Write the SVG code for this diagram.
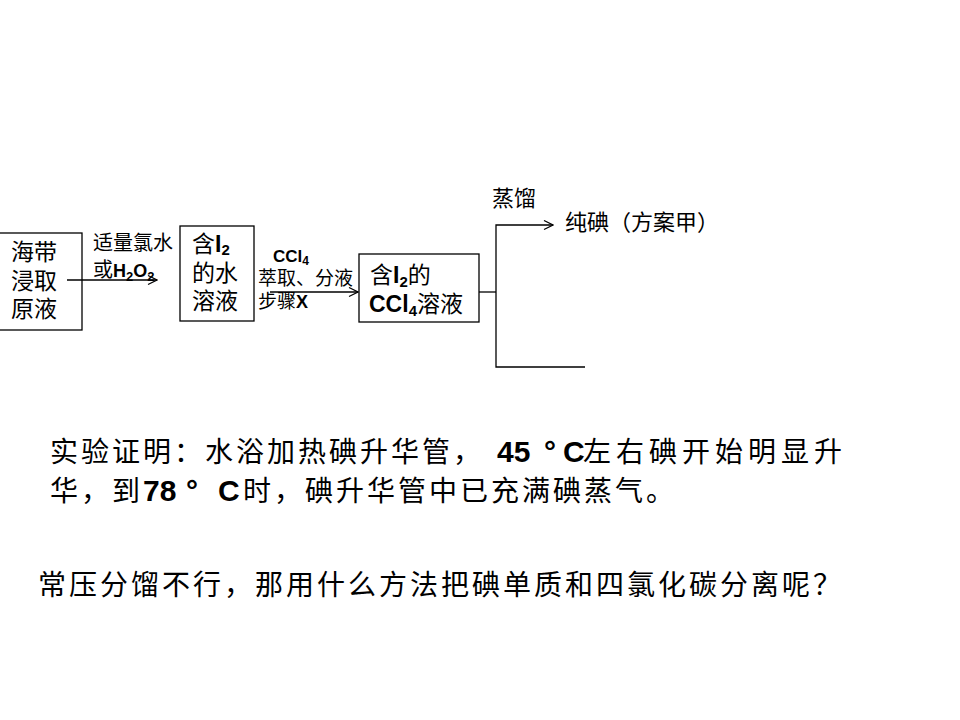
<svg xmlns="http://www.w3.org/2000/svg" width="960" height="720" viewBox="0 0 960 720">
<style>
.box{fill:#fff;stroke:#000;stroke-width:1.3}
.cn{font-family:"Liberation Serif","Noto Sans CJK SC",serif;fill:#000}
.b{font-family:"Liberation Sans",Arial,sans-serif;font-weight:bold}
.ln{stroke:#000;stroke-width:1.3;fill:none}
.body{font-size:28px;letter-spacing:3px}
.num{font-family:"Liberation Sans",Arial,sans-serif;font-weight:bold;font-size:30px;letter-spacing:0}
</style>
<defs>
<marker id="ah" markerWidth="11" markerHeight="11" refX="10" refY="5.5" orient="auto" markerUnits="userSpaceOnUse">
<path d="M1,1 L10,5.5 L1,10" fill="none" stroke="#000" stroke-width="1.2"/>
</marker>
</defs>
<rect width="960" height="720" fill="#fff"/>
<g id="node-haidai">
<rect class="box" x="-2" y="233" width="84" height="97"/>
<text class="cn" font-size="23" x="11" y="260">海带</text>
<text class="cn" font-size="23" x="11" y="289">浸取</text>
<text class="cn" font-size="23" x="11" y="317">原液</text>
</g>
<g id="node-i2water">
<rect class="box" x="180" y="226" width="74" height="95"/>
<text class="cn" font-size="23" x="192" y="252">含<tspan class="b">I<tspan font-size="15" dy="3">2</tspan></tspan></text>
<text class="cn" font-size="23" x="192" y="281">的水</text>
<text class="cn" font-size="23" x="192" y="309">溶液</text>
</g>
<g id="node-i2ccl4">
<rect class="box" x="359" y="254" width="120" height="68"/>
<text class="cn" font-size="23" x="370" y="283">含<tspan class="b">I<tspan font-size="15" dy="4">2</tspan></tspan><tspan dy="-4">的</tspan></text>
<text class="cn" font-size="23" x="369" y="312"><tspan class="b">CCl<tspan font-size="15" dy="4">4</tspan></tspan><tspan dy="-4">溶液</tspan></text>
</g>
<g id="node-pure">
<text class="cn" font-size="22" x="492" y="206">蒸馏</text>
<text class="cn" font-size="22" x="565" y="230">纯碘（方案甲）</text>
</g>
<g id="connectors">
<line class="ln" x1="67" y1="280" x2="157" y2="280" marker-end="url(#ah)"/>
<text class="cn" font-size="20" x="93" y="250">适量氯水</text>
<text class="cn" font-size="20" x="93" y="277">或<tspan class="b" font-size="18">H<tspan font-size="13" dy="4">2</tspan><tspan dy="-4">O</tspan><tspan font-size="13" dy="4">2</tspan></tspan></text>
<line class="ln" x1="270" y1="292" x2="358" y2="292" marker-end="url(#ah)"/>
<text class="b" font-size="17" x="273" y="262">CCl<tspan font-size="12" dy="3">4</tspan></text>
<text class="cn" font-size="19" x="258" y="285">萃取、分液</text>
<text class="cn" font-size="19" x="258" y="308">步骤<tspan class="b" font-size="18">X</tspan></text>
<line class="ln" x1="479" y1="292" x2="496" y2="292"/>
<path class="ln" d="M585,367 L496,367 L496,225 L553,225" marker-end="url(#ah)"/>
</g>
<g id="notes">
<text class="cn body" x="50" y="462">实验证明：水浴加热碘升华管，<tspan class="num" x="497">45</tspan><tspan class="num" x="544">°</tspan><tspan class="num" x="563">C</tspan><tspan x="583" letter-spacing="5">左右碘开始明显升</tspan></text>
<text class="cn body" x="50" y="501">华，到<tspan class="num" x="143">78</tspan><tspan class="num" x="186">°</tspan><tspan class="num" x="218">C</tspan><tspan x="243">时，碘升华管中已充满碘蒸气。</tspan></text>
<text class="cn body" x="38" y="595" letter-spacing="3.3">常压分馏不行，那用什么方法把碘单质和四氯化碳分离呢？</text>
</g>
</svg>
